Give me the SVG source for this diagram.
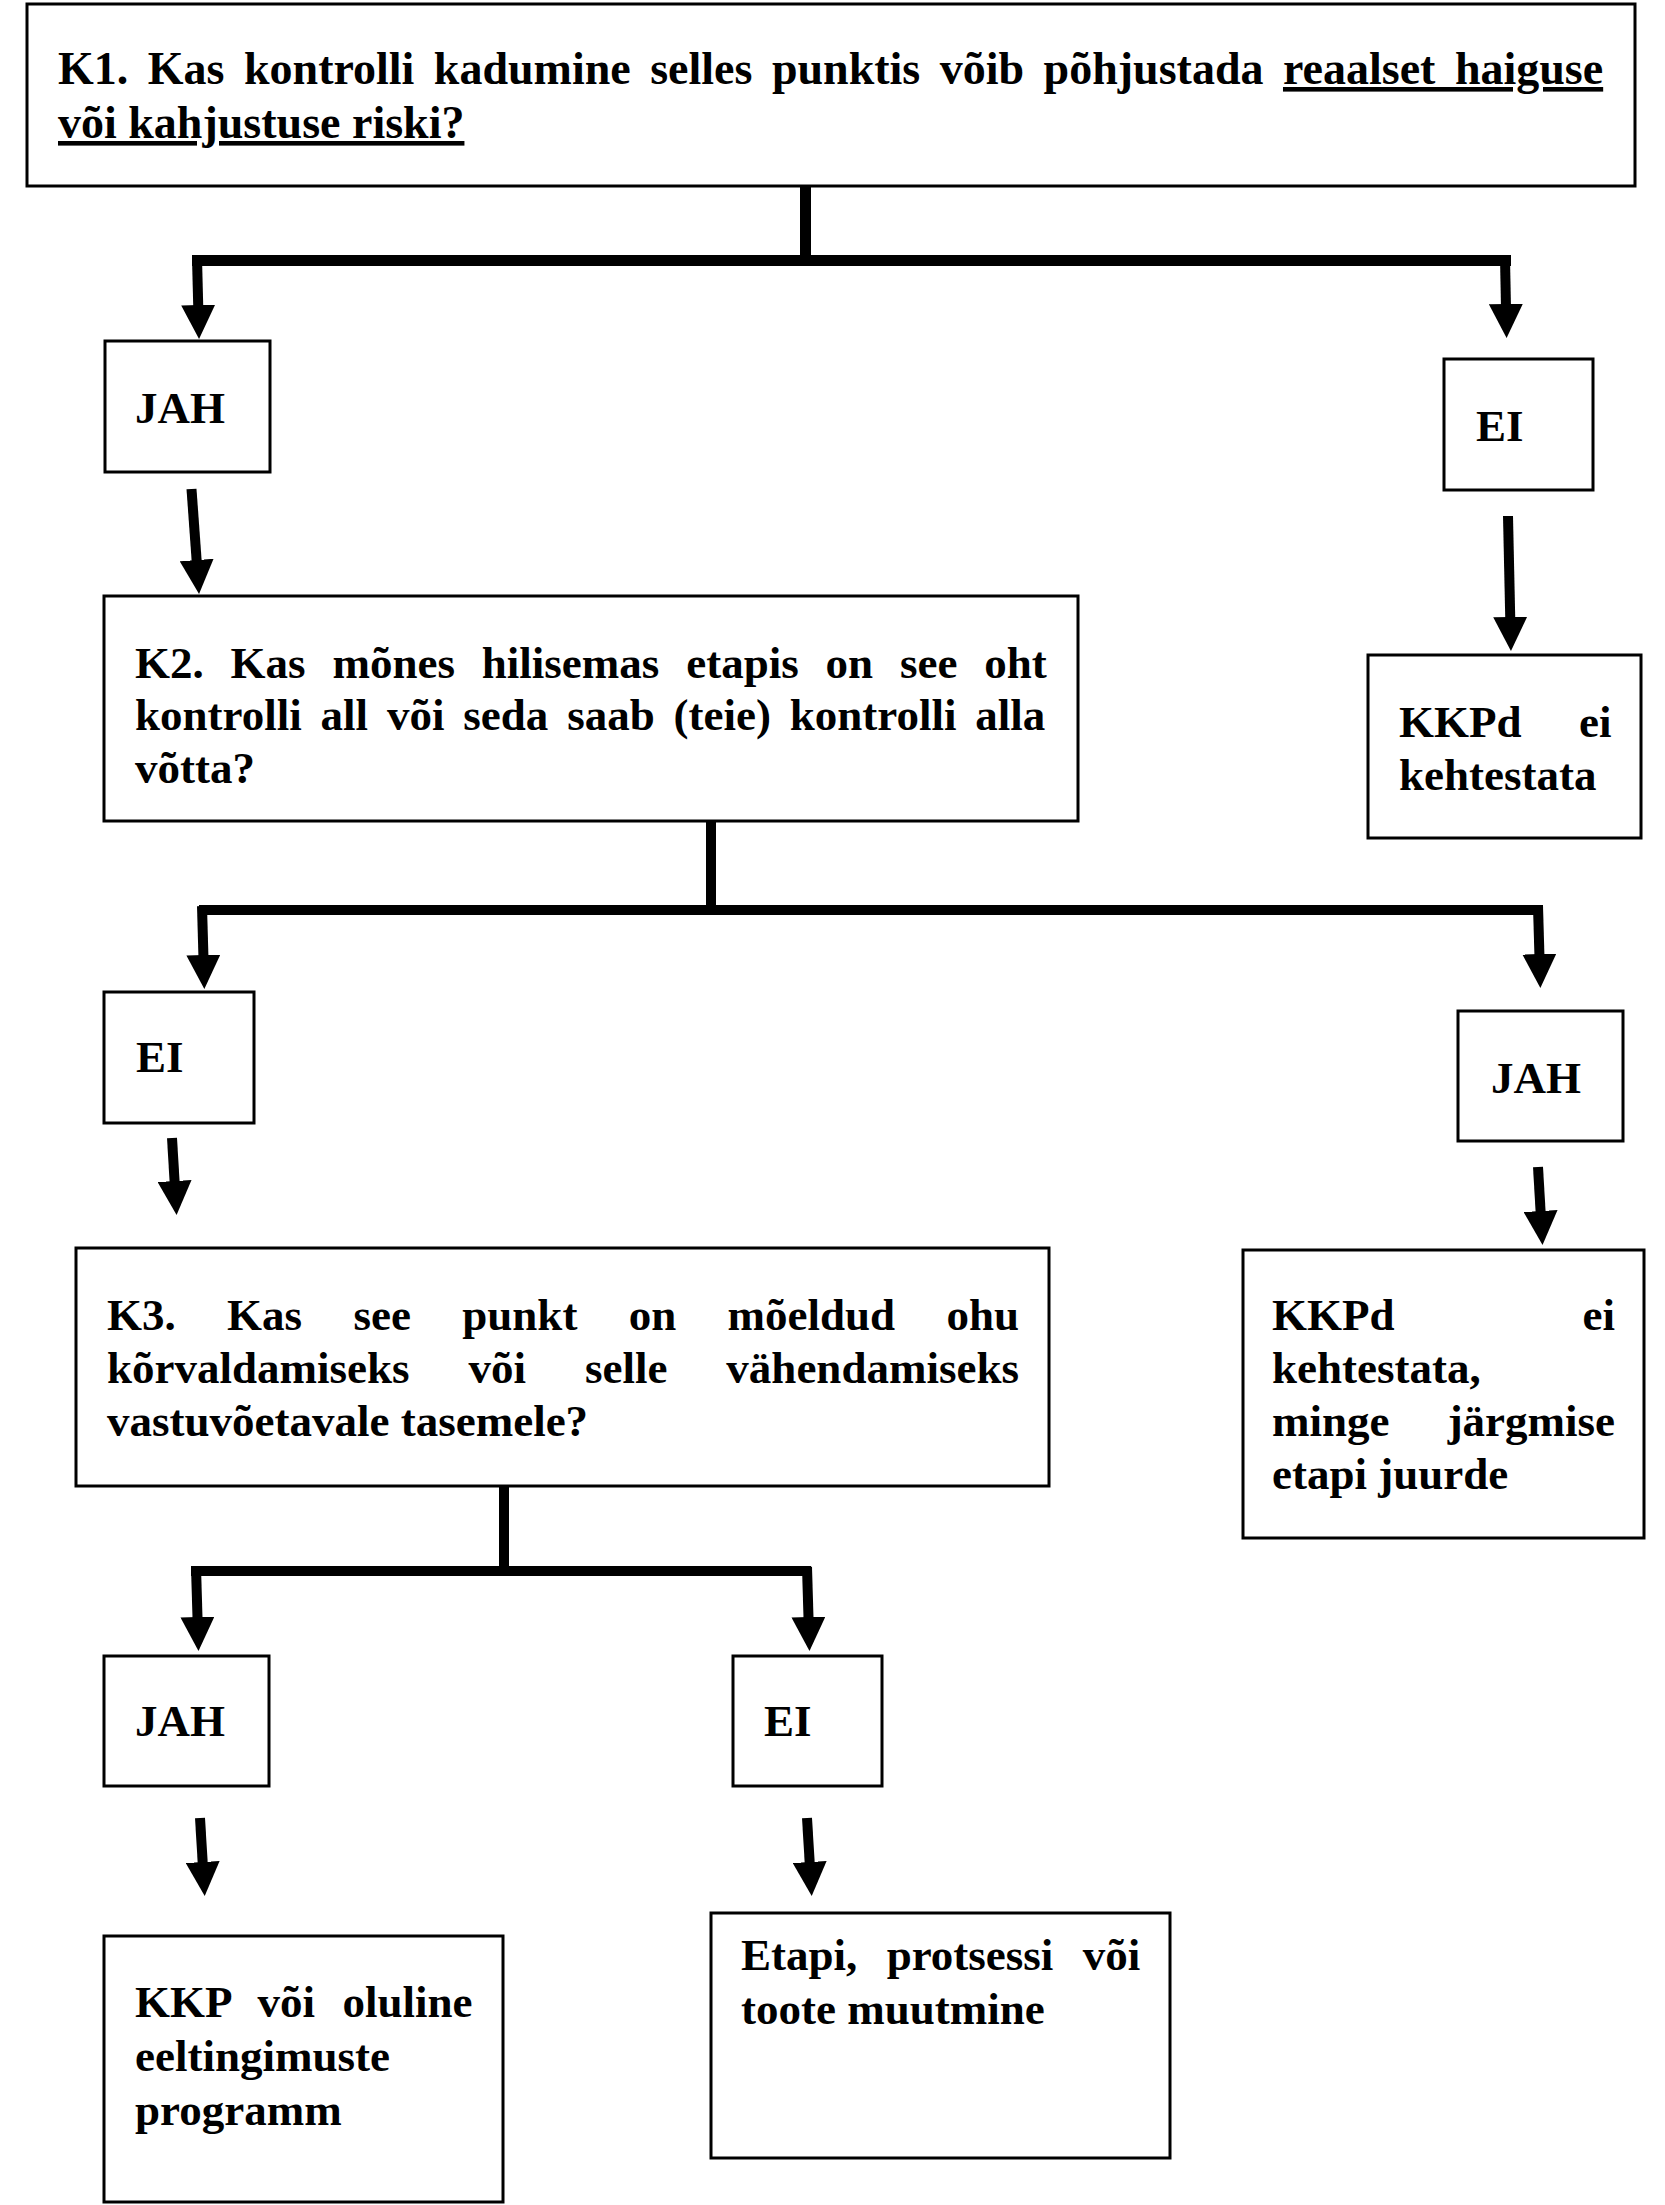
<svg xmlns="http://www.w3.org/2000/svg" width="1665" height="2205" viewBox="0 0 1665 2205">
<style>
.box{fill:#fff;stroke:#000;stroke-width:3}
.t{font-family:"Liberation Serif","Times New Roman",serif;font-weight:bold;font-size:45px;fill:#000}
.k1{font-size:46px}
.c{stroke:#000;fill:none;stroke-width:10}
.w{stroke-width:11}
.a{marker-end:url(#ah)}
.u{text-decoration:underline}
</style>
<defs>
<marker id="ah" viewBox="0 0 34 34" refX="4" refY="17" markerWidth="34" markerHeight="34" markerUnits="userSpaceOnUse" orient="auto"><path d="M0,0 L34,17 L0,34 z" fill="#000"/></marker>
</defs>
<rect width="1665" height="2205" fill="#fff"/>

<g id="connectors">
<line class="c w" x1="805.5" y1="183" x2="805.5" y2="265"/>
<line class="c w" x1="192" y1="260.5" x2="1511" y2="260.5"/>
<line class="c a" x1="197" y1="258" x2="198.3" y2="309"/>
<line class="c a" x1="1505" y1="258" x2="1506" y2="308"/>
<line class="c a" x1="191.5" y1="489" x2="196.9" y2="564"/>
<line class="c a" x1="1508" y1="516" x2="1510.3" y2="621"/>
<line class="c" x1="711" y1="810" x2="711" y2="915"/>
<line class="c" x1="199" y1="910" x2="1543" y2="910"/>
<line class="c a" x1="202" y1="906" x2="203.5" y2="959"/>
<line class="c a" x1="1538" y1="906" x2="1539.5" y2="958"/>
<line class="c a" x1="172" y1="1138" x2="174.8" y2="1185"/>
<line class="c a" x1="1538" y1="1167" x2="1540.8" y2="1215"/>
<line class="c" x1="504" y1="1484" x2="504" y2="1576"/>
<line class="c" x1="191" y1="1571" x2="811" y2="1571"/>
<line class="c a" x1="196" y1="1567" x2="197.6" y2="1621"/>
<line class="c a" x1="807" y1="1567" x2="808.6" y2="1621"/>
<line class="c a" x1="200" y1="1818" x2="202.9" y2="1866"/>
<line class="c a" x1="807" y1="1818" x2="809.9" y2="1866"/>
</g>

<g id="k1">
<rect class="box" x="27" y="4" width="1608" height="182"/>
<text class="t k1" x="58" y="84" word-spacing="8">K1. Kas kontrolli kadumine selles punktis võib põhjustada <tspan class="u">reaalset haiguse</tspan></text>
<text class="t k1 u" x="58" y="138">või kahjustuse riski?</text>
</g>

<g id="jah1">
<rect class="box" x="105" y="341" width="165" height="131"/>
<text class="t" x="135" y="423">JAH</text>
</g>

<g id="ei1">
<rect class="box" x="1444" y="359" width="149" height="131"/>
<text class="t" x="1476" y="441">EI</text>
</g>

<g id="k2">
<rect class="box" x="104" y="596" width="974" height="225"/>
<text class="t" x="135" y="678" word-spacing="15.6">K2. Kas mõnes hilisemas etapis on see oht</text>
<text class="t" x="135" y="730" word-spacing="7.6">kontrolli all või seda saab (teie) kontrolli alla</text>
<text class="t" x="135" y="783">võtta?</text>
</g>

<g id="kkpd1">
<rect class="box" x="1368" y="655" width="273" height="183"/>
<text class="t" x="1399" y="737" word-spacing="46.3">KKPd ei</text>
<text class="t" x="1399" y="790">kehtestata</text>
</g>

<g id="ei2">
<rect class="box" x="104" y="992" width="150" height="131"/>
<text class="t" x="136" y="1072">EI</text>
</g>

<g id="jah2">
<rect class="box" x="1458" y="1011" width="165" height="130"/>
<text class="t" x="1491" y="1093">JAH</text>
</g>

<g id="k3">
<rect class="box" x="76" y="1248" width="973" height="238"/>
<text class="t" x="107" y="1330" word-spacing="40.1">K3. Kas see punkt on mõeldud ohu</text>
<text class="t" x="107" y="1383" word-spacing="47.7">kõrvaldamiseks või selle vähendamiseks</text>
<text class="t" x="107" y="1436">vastuvõetavale tasemele?</text>
</g>

<g id="kkpd2">
<rect class="box" x="1243" y="1250" width="401" height="288"/>
<text class="t" x="1272" y="1330" word-spacing="176.8">KKPd ei</text>
<text class="t" x="1272" y="1383">kehtestata,</text>
<text class="t" x="1272" y="1436" word-spacing="46.9">minge järgmise</text>
<text class="t" x="1272" y="1489">etapi juurde</text>
</g>

<g id="jah3">
<rect class="box" x="104" y="1656" width="165" height="130"/>
<text class="t" x="135" y="1736">JAH</text>
</g>

<g id="ei3">
<rect class="box" x="733" y="1656" width="149" height="130"/>
<text class="t" x="764" y="1736">EI</text>
</g>

<g id="kkp">
<rect class="box" x="104" y="1936" width="399" height="266"/>
<text class="t" x="135" y="2017" word-spacing="16.2">KKP või oluline</text>
<text class="t" x="135" y="2071">eeltingimuste</text>
<text class="t" x="135" y="2125">programm</text>
</g>

<g id="etapi">
<rect class="box" x="711" y="1913" width="459" height="245"/>
<text class="t" x="741" y="1970" word-spacing="18.1">Etapi, protsessi või</text>
<text class="t" x="741" y="2024">toote muutmine</text>
</g>
</svg>
